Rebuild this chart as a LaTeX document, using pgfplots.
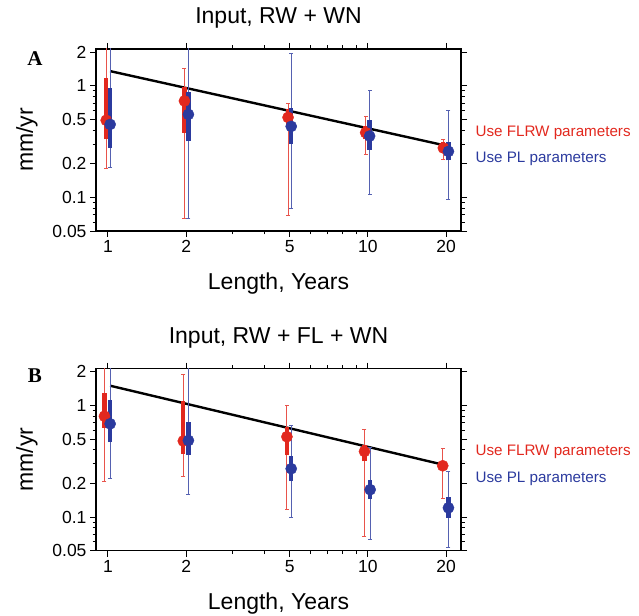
\documentclass[border=0pt]{standalone}
\usepackage{fontspec}
\setmainfont{Liberation Sans}
\newfontfamily\serifbf{Liberation Serif}[BoldFont={Liberation Serif Bold}]
\usepackage{pgfplots}
\pgfplotsset{compat=1.18}
\definecolor{flrw}{HTML}{E2281E}
\definecolor{pl}{HTML}{2B3A9E}
\newcommand{\labfont}{\fontsize{23}{24}\selectfont}
\pgfplotsset{every axis/.append style={
    xmode=log, ymode=log, scale only axis, width=365pt, height=182pt,
    xmin=0.9, xmax=22.8, ymin=0.05, ymax=2.13,
    xtick={1,2,5,10,20}, xticklabels={1,2,5,10,20},
    minor xtick={3,4,6,7,8,9},
    ytick={0.05,0.1,0.2,0.5,1,2}, yticklabels={0.05,0.1,0.2,0.5,1,2},
    minor ytick={0.06,0.07,0.08,0.09,0.3,0.4,0.6,0.7,0.8,0.9},
    tick align=outside, major tick length=6pt, minor tick length=3.5pt,
    axis line style={line width=1.2pt},
    tick style={black, line width=0.9pt},
    tick label style={font=\fontsize{17.5}{18}\selectfont},
    title style={at={(0.5,1.108)}, anchor=base, font=\labfont},
    xlabel style={at={(0.5,-0.324)}, anchor=base, font=\labfont},
    ylabel style={at={(-0.1726,0.5)}, anchor=base, font=\labfont},
    xlabel={Length, Years}, ylabel={mm/yr},
  }}

\begin{document}
\begin{tikzpicture}
\useasboundingbox (0pt,0pt) rectangle (639pt,615pt);

% --- A: input RW + WN
\begin{axis}[at={(96pt,384pt)}, anchor=south west, title={Input, RW + WN}]
\addplot[black, line width=2.4pt] coordinates {(1.02,1.35) (20,0.29)};
\addplot[flrw!80, line width=0.9pt, mark=-, mark size=2pt, unbounded coords=jump] coordinates {
  (0.985,0.183) (0.985,3) (nan,nan)
  (1.97,0.065) (1.97,1.42) (nan,nan)
  (4.93,0.069) (4.93,0.70) (nan,nan)
  (9.8,0.244) (9.8,0.528) (nan,nan)
  (19.5,0.22) (19.5,0.33)};
\addplot[flrw, line width=4.3pt, unbounded coords=jump] coordinates {
  (0.985,0.33) (0.985,1.16) (nan,nan)
  (1.97,0.38) (1.97,0.97) (nan,nan)
  (4.93,0.43) (4.93,0.62) (nan,nan)
  (9.8,0.33) (9.8,0.44) (nan,nan)
  (19.5,0.25) (19.5,0.31)};
\addplot[flrw, only marks, mark=*, mark size=5.6pt] coordinates {(0.985,0.49) (1.97,0.73) (4.93,0.52) (9.8,0.38) (19.5,0.277)};
\addplot[pl!80, line width=0.9pt, mark=-, mark size=2pt, unbounded coords=jump] coordinates {
  (1.02,0.185) (1.02,3) (nan,nan)
  (2.04,0.065) (2.04,3) (nan,nan)
  (5.07,0.080) (5.07,1.95) (nan,nan)
  (10.15,0.106) (10.15,0.908) (nan,nan)
  (20.4,0.096) (20.4,0.60)};
\addplot[pl, line width=4.3pt, unbounded coords=jump] coordinates {
  (1.02,0.277) (1.02,0.95) (nan,nan)
  (2.04,0.317) (2.04,0.877) (nan,nan)
  (5.07,0.30) (5.07,0.63) (nan,nan)
  (10.15,0.267) (10.15,0.49) (nan,nan)
  (20.4,0.214) (20.4,0.313)};
\addplot[pl, only marks, mark=*, mark size=5.6pt] coordinates {(1.02,0.45) (2.04,0.553) (5.07,0.432) (10.15,0.354) (20.4,0.258)};
\end{axis}

% --- B: input RW + FL + WN
\begin{axis}[at={(96pt,64.3pt)}, anchor=south west, title={Input, RW + FL + WN}]
\addplot[black, line width=2.4pt] coordinates {(1.02,1.50) (20,0.29)};
\addplot[flrw!80, line width=0.9pt, mark=-, mark size=2pt, unbounded coords=jump] coordinates {
  (0.97,0.21) (0.97,3) (nan,nan)
  (1.95,0.23) (1.95,1.91) (nan,nan)
  (4.88,0.116) (4.88,0.993) (nan,nan)
  (9.7,0.067) (9.7,0.614) (nan,nan)
  (19.4,0.147) (19.4,0.415)};
\addplot[flrw, line width=4.3pt, unbounded coords=jump] coordinates {
  (0.97,0.63) (0.97,1.29) (nan,nan)
  (1.95,0.366) (1.95,1.10) (nan,nan)
  (4.88,0.359) (4.88,0.644) (nan,nan)
  (9.7,0.315) (9.7,0.442) (nan,nan)
  (19.4,0.27) (19.4,0.31)};
\addplot[flrw, only marks, mark=*, mark size=5.6pt] coordinates {(0.97,0.80) (1.95,0.48) (4.88,0.524) (9.7,0.387) (19.4,0.288)};
\addplot[pl!80, line width=0.9pt, mark=-, mark size=2pt, unbounded coords=jump] coordinates {
  (1.02,0.223) (1.02,3) (nan,nan)
  (2.04,0.159) (2.04,3) (nan,nan)
  (5.07,0.099) (5.07,0.657) (nan,nan)
  (10.2,0.063) (10.2,0.42) (nan,nan)
  (20.4,0.054) (20.4,0.256)};
\addplot[pl, line width=4.3pt, unbounded coords=jump] coordinates {
  (1.02,0.47) (1.02,1.107) (nan,nan)
  (2.04,0.359) (2.04,0.713) (nan,nan)
  (5.07,0.21) (5.07,0.354) (nan,nan)
  (10.2,0.145) (10.2,0.216) (nan,nan)
  (20.4,0.099) (20.4,0.15)};
\addplot[pl, only marks, mark=*, mark size=5.6pt] coordinates {(1.02,0.684) (2.04,0.485) (5.07,0.271) (10.2,0.176) (20.4,0.121)};
\end{axis}

\node[anchor=west, text=flrw, font=\fontsize{15.2}{16}\selectfont] at (472pt,482.3pt) {Use FLRW parameters};
\node[anchor=west, text=pl, font=\fontsize{15.2}{16}\selectfont] at (472pt,455.7pt) {Use PL parameters};
\node[anchor=west, text=flrw, font=\fontsize{15.2}{16}\selectfont] at (472pt,163.3pt) {Use FLRW parameters};
\node[anchor=west, text=pl, font=\fontsize{15.2}{16}\selectfont] at (472pt,136.3pt) {Use PL parameters};
\node[font=\fontsize{21}{22}\selectfont\serifbf\bfseries] at (35pt,556.3pt) {A};
\node[font=\fontsize{21}{22}\selectfont\serifbf\bfseries] at (35pt,239.3pt) {B};
\end{tikzpicture}
\end{document}
